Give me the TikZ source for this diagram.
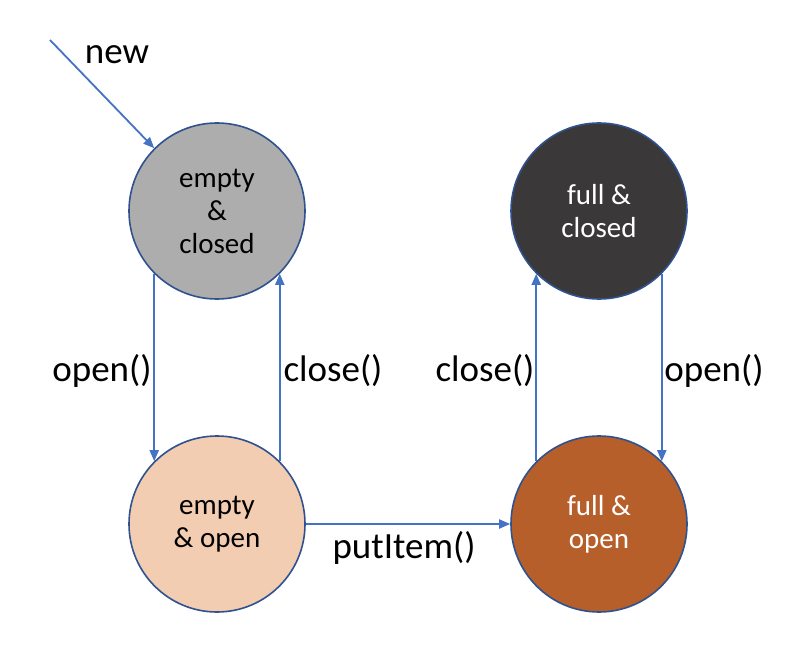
\documentclass[tikz,border=0pt]{standalone}
\usepackage{fontspec}
\setmainfont{Carlito}
\usetikzlibrary{arrows.meta}
\definecolor{cgray}{HTML}{ADADAD}
\definecolor{cdark}{HTML}{3A3838}
\definecolor{cpeach}{HTML}{F3CDB1}
\definecolor{cbrown}{HTML}{B65F2A}
\definecolor{cborder}{HTML}{2F528F}
\definecolor{carrow}{HTML}{4472C4}
\tikzset{
  state/.style={circle, draw=cborder, line width=1.6pt, minimum size=176pt, inner sep=0pt, align=center, font=\fontsize{29}{33}\selectfont},
  conn/.style={draw=carrow, line width=1.8pt, -{Triangle[length=11pt,width=9pt]}},
  lbl/.style={font=\fontsize{37}{40}\selectfont, inner sep=0pt}
}
\begin{document}
\begin{tikzpicture}[x=1pt,y=-1pt]
\useasboundingbox (0,0) rectangle (800,647);
\node[state, fill=cgray] (ec) at (217,211) {empty\\\&\\closed};
\node[state, fill=cpeach] (eo) at (217,524) {empty\\\& open};
\node[state, fill=cdark, text=white] (fc) at (599,211) {full \&\\closed};
\node[state, fill=cbrown, text=white] (fo) at (599,524) {full \&\\open};
\coordinate (start) at (50,40);
\draw[conn] (start) -- (ec.135);
\draw[conn] (ec.225) -- (eo.135);
\draw[conn] (eo.45) -- (ec.315);
\draw[conn] (fo.135) -- (fc.225);
\draw[conn] (fc.315) -- (fo.45);
\draw[conn] (eo.east) -- (fo.west);
\node[lbl] (lnew) at (117,55) {new};
\node[lbl] (lopen1) at (102,371) {open()};
\node[lbl] (lclose1) at (333,371) {close()};
\node[lbl] (lclose2) at (485,371) {close()};
\node[lbl] (lopen2) at (714,371) {open()};
\node[lbl] (lput) at (404,548) {putItem()};
\end{tikzpicture}
\end{document}
